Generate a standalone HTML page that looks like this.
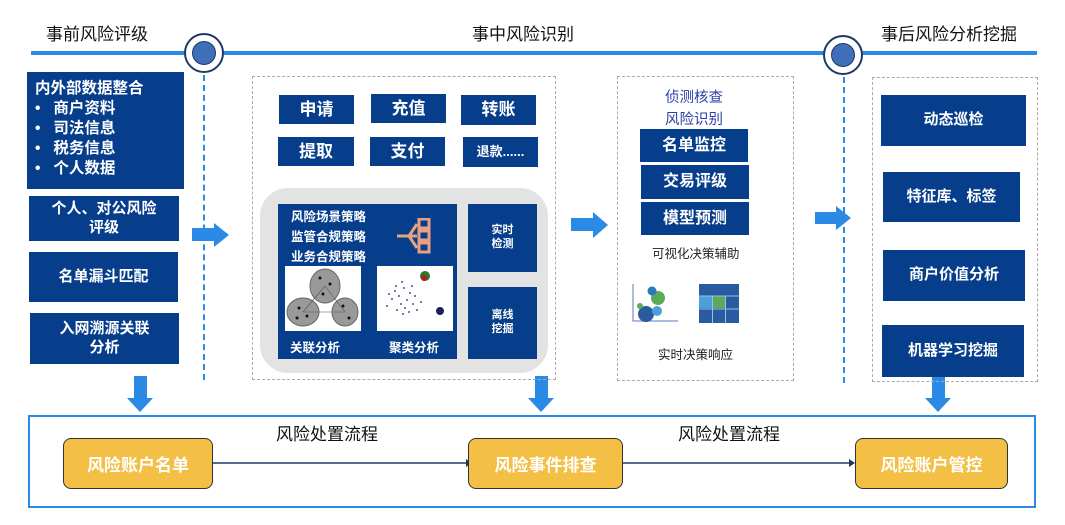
<!DOCTYPE html>
<html><head><meta charset="utf-8"><style>
*{margin:0;padding:0;box-sizing:border-box}
body{width:1065px;height:525px;background:#fff;position:relative;overflow:hidden;font-family:"Liberation Sans","Noto Sans CJK SC",sans-serif}
.a{position:absolute}
.b{position:absolute;background:#063e8c;color:#fff;font-weight:bold;display:flex;align-items:center;justify-content:center;text-align:center;line-height:1.25}
.t{position:absolute;font-size:17px;color:#111;white-space:nowrap}
.dash{position:absolute;border:1px dashed #aaa}
.vd{position:absolute;border-left:2px dashed #2a8ae6;width:0}
.y{position:absolute;background:#f3bf45;border:1px solid #333;border-radius:8px;color:#fff;font-weight:bold;font-size:17px;display:flex;align-items:center;justify-content:center}
</style></head><body>
<div class="t" style="left:46px;top:20px">事前风险评级</div>
<div class="t" style="left:472px;top:20px">事中风险识别</div>
<div class="t" style="left:881px;top:20px">事后风险分析挖掘</div>
<div class="a" style="left:31px;top:51px;width:1006px;height:4px;background:#2a8ae6"></div>
<div class="a" style="left:184px;top:33px;width:40px;height:40px;border-radius:50%;background:#fff;border:2px solid #1d3a66"></div>
<div class="a" style="left:192px;top:41px;width:24px;height:24px;border-radius:50%;background:#3f6fb8;border:1px solid #1d3a66"></div>
<div class="a" style="left:823px;top:35px;width:40px;height:40px;border-radius:50%;background:#fff;border:2px solid #1d3a66"></div>
<div class="a" style="left:831px;top:43px;width:24px;height:24px;border-radius:50%;background:#3f6fb8;border:1px solid #1d3a66"></div>
<div class="vd" style="left:203px;top:75px;height:305px"></div>
<div class="vd" style="left:843px;top:77px;height:306px"></div>

<div class="b" style="left:27px;top:72px;width:157px;height:117px;justify-content:flex-start;align-items:flex-start;text-align:left;font-size:15.5px;padding:7px 0 0 8px;line-height:20px">内外部数据整合<br>•&nbsp;&nbsp;&nbsp;商户资料<br>•&nbsp;&nbsp;&nbsp;司法信息<br>•&nbsp;&nbsp;&nbsp;税务信息<br>•&nbsp;&nbsp;&nbsp;个人数据</div>
<div class="b" style="left:29px;top:196px;width:150px;height:45px;font-size:15px">个人、对公风险<br>评级</div>
<div class="b" style="left:29px;top:252px;width:149px;height:50px;font-size:15px">名单漏斗匹配</div>
<div class="b" style="left:30px;top:313px;width:149px;height:51px;font-size:15px">入网溯源关联<br>分析</div>

<svg class="a" style="left:0;top:0" width="1065" height="525">
<polygon points="192,228 214,228 214,223 229,235 214,247 214,241 192,241" fill="#2a8ae6"/>
<polygon points="571,218 593,218 593,212 608,225 593,238 593,231 571,231" fill="#2a8ae6"/>
<polygon points="815,212 836,212 836,206 851,218 836,230 836,224 815,224" fill="#2a8ae6"/>
<polygon points="134,376 147,376 147,398 153,398 140,412 127,398 134,398" fill="#2a8ae6"/>
<polygon points="535,376 548,376 548,398 554,398 541,412 528,398 535,398" fill="#2a8ae6"/>
<polygon points="932,376 945,376 945,398 951,398 938,412 925,398 932,398" fill="#2a8ae6"/>
<line x1="213" y1="463" x2="466" y2="463" stroke="#1d3a66" stroke-width="1.5"/>
<polygon points="466,459 472,463 466,467" fill="#1d3a66"/>
<line x1="623" y1="463" x2="849" y2="463" stroke="#1d3a66" stroke-width="1.5"/>
<polygon points="849,459 855,463 849,467" fill="#1d3a66"/>
</svg>

<div class="dash" style="left:252px;top:76px;width:304px;height:304px"></div>
<div class="b" style="left:279px;top:95px;width:75px;height:29px;font-size:17px">申请</div>
<div class="b" style="left:371px;top:94px;width:75px;height:29px;font-size:17px">充值</div>
<div class="b" style="left:461px;top:95px;width:75px;height:30px;font-size:17px">转账</div>
<div class="b" style="left:278px;top:137px;width:76px;height:29px;font-size:17px">提取</div>
<div class="b" style="left:370px;top:137px;width:75px;height:29px;font-size:17px">支付</div>
<div class="b" style="left:463px;top:137px;width:75px;height:30px;font-size:13px">退款......</div>
<div class="a" style="left:260px;top:188px;width:288px;height:185px;background:#e3e3e3;border-radius:28px"></div>
<div class="b" style="left:278px;top:204px;width:179px;height:155px"></div>
<div class="a" style="left:291px;top:207px;color:#fff;font-weight:bold;font-size:12.5px;line-height:20px">风险场景策略<br>监管合规策略<br>业务合规策略</div>
<svg class="a" style="left:395px;top:218px" width="38" height="36"><g fill="none" stroke="#e8a080" stroke-width="3"><path d="M2,18 L14,18 M14,18 L22,6 M14,18 L22,18 M14,18 L22,30"/><rect x="24" y="1" width="10" height="9"/><rect x="24" y="13" width="10" height="9"/><rect x="24" y="25" width="10" height="9"/></g></svg>
<svg class="a" style="left:285px;top:266px" width="76" height="65"><rect width="76" height="65" fill="#fff"/><g fill="#999" stroke="#666"><ellipse cx="40" cy="20" rx="15" ry="17"/><ellipse cx="18" cy="46" rx="16" ry="14"/><ellipse cx="60" cy="46" rx="13" ry="14"/></g><g stroke="#555" stroke-width=".6"><line x1="40" y1="20" x2="18" y2="46"/><line x1="40" y1="20" x2="60" y2="46"/><line x1="18" y1="46" x2="60" y2="46"/></g><g fill="#111"><circle cx="35" cy="12" r="1.5"/><circle cx="45" cy="18" r="1.5"/><circle cx="38" cy="28" r="1.5"/><circle cx="14" cy="42" r="1.5"/><circle cx="22" cy="50" r="1.5"/><circle cx="12" cy="52" r="1.5"/><circle cx="58" cy="40" r="1.5"/><circle cx="64" cy="52" r="1.5"/></g></svg>
<svg class="a" style="left:377px;top:266px" width="76" height="65"><rect width="76" height="65" fill="#fff"/><g fill="#5a4a9a"><circle cx="18" cy="25" r="1"/><circle cx="22" cy="30" r="1"/><circle cx="27" cy="22" r="1"/><circle cx="30" cy="34" r="1"/><circle cx="24" cy="38" r="1"/><circle cx="15" cy="33" r="1"/><circle cx="33" cy="27" r="1"/><circle cx="28" cy="42" r="1"/><circle cx="36" cy="38" r="1"/><circle cx="20" cy="44" r="1"/><circle cx="12" cy="28" r="1"/><circle cx="38" cy="30" r="1"/><circle cx="25" cy="16" r="1"/><circle cx="32" cy="46" r="1"/><circle cx="10" cy="40" r="1"/><circle cx="40" cy="44" r="1"/><circle cx="19" cy="20" r="1"/><circle cx="35" cy="20" r="1"/><circle cx="26" cy="48" r="1"/><circle cx="44" cy="36" r="1"/></g><circle cx="48" cy="10" r="5" fill="#2a7a2a"/><circle cx="47" cy="12" r="3" fill="#b02020"/><circle cx="63" cy="45" r="4" fill="#202060"/></svg>
<div class="a" style="left:290px;top:337px;color:#fff;font-weight:bold;font-size:12.5px">关联分析</div>
<div class="a" style="left:389px;top:337px;color:#fff;font-weight:bold;font-size:12.5px">聚类分析</div>
<div class="b" style="left:468px;top:204px;width:69px;height:68px;font-size:11px">实时<br>检测</div>
<div class="b" style="left:468px;top:287px;width:69px;height:72px;font-size:11px">离线<br>挖掘</div>

<div class="dash" style="left:617px;top:76px;width:177px;height:305px"></div>
<div class="a" style="left:665px;top:87px;color:#2c3fa8;font-size:14.5px;line-height:22px">侦测核查<br>风险识别</div>
<div class="b" style="left:640px;top:129px;width:108px;height:33px;font-size:16px">名单监控</div>
<div class="b" style="left:641px;top:165px;width:108px;height:34px;font-size:16px">交易评级</div>
<div class="b" style="left:641px;top:202px;width:108px;height:33px;font-size:16px">模型预测</div>
<div class="a" style="left:652px;top:243px;font-size:12.5px;color:#222">可视化决策辅助</div>
<svg class="a" style="left:632px;top:284px" width="48" height="40"><path d="M1,0 V37 H46" stroke="#5a7ab8" fill="none" stroke-width="1"/><circle cx="14" cy="30" r="8" fill="#2a5aa0"/><circle cx="26" cy="14" r="7" fill="#5aaa5a"/><circle cx="20" cy="7" r="4.5" fill="#2a7ab8"/><circle cx="25" cy="27" r="5" fill="#4aa0d8"/><circle cx="8" cy="22" r="3" fill="#5aaa5a"/></svg>
<svg class="a" style="left:699px;top:284px" width="40" height="39"><rect width="40" height="39" fill="#2a5aa0"/><rect x="0" y="12" width="13" height="12" fill="#4aa0d8"/><rect x="14" y="12" width="12" height="12" fill="#5aaa5a"/><g stroke="#9ac0e8" stroke-width="1"><line x1="0" y1="12" x2="40" y2="12"/><line x1="0" y1="25" x2="40" y2="25"/><line x1="13.5" y1="12" x2="13.5" y2="39"/><line x1="26.5" y1="12" x2="26.5" y2="39"/></g></svg>
<div class="a" style="left:658px;top:344px;font-size:12.5px;color:#222">实时决策响应</div>

<div class="dash" style="left:872px;top:77px;width:166px;height:305px"></div>
<div class="b" style="left:881px;top:95px;width:145px;height:51px;font-size:15px">动态巡检</div>
<div class="b" style="left:883px;top:172px;width:137px;height:50px;font-size:15px">特征库、标签</div>
<div class="b" style="left:883px;top:250px;width:142px;height:51px;font-size:15px">商户价值分析</div>
<div class="b" style="left:882px;top:325px;width:142px;height:52px;font-size:15px">机器学习挖掘</div>

<div class="a" style="left:28px;top:415px;width:1008px;height:93px;border:2px solid #2a8ae6"></div>
<div class="t" style="left:276px;top:420px">风险处置流程</div>
<div class="t" style="left:678px;top:420px">风险处置流程</div>
<div class="y" style="left:63px;top:438px;width:150px;height:51px">风险账户名单</div>
<div class="y" style="left:468px;top:438px;width:155px;height:51px">风险事件排查</div>
<div class="y" style="left:855px;top:438px;width:153px;height:51px">风险账户管控</div>
</body></html>
